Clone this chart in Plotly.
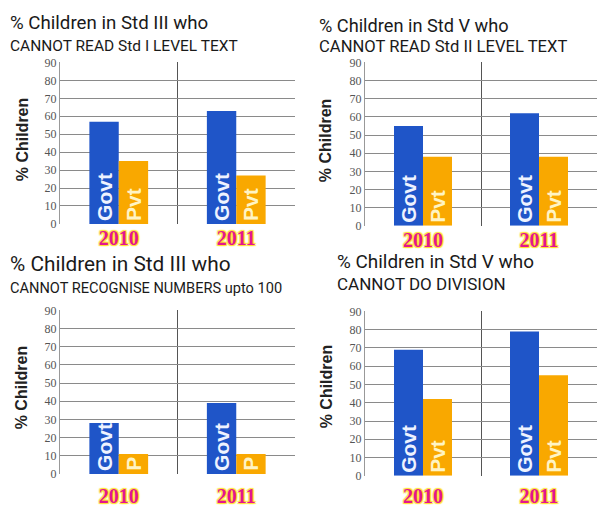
import plotly.graph_objects as go

W, H = 599, 512

years = ["2010", "2011"]
y_ticks = [0, 10, 20, 30, 40, 50, 60, 70, 80, 90]

# Panel data (% children)
read3_govt = [57, 63]
read3_pvt = [35, 27]
read5_govt = [55, 62]
read5_pvt = [38, 38]
num3_govt = [28, 39]
num3_pvt = [11, 11]
div5_govt = [69, 79]
div5_pvt = [42, 55]

govt_labels = ["Govt", "Govt"]
pvt_labels = ["Pvt", "Pvt"]
pvt_short_labels = ["P", "P"]

titles_line1 = ["% Children in Std III who", "% Children in Std V who",
                "% Children in Std III who", "% Children in Std V who"]
titles_line2 = ["CANNOT READ Std I LEVEL TEXT", "CANNOT READ Std II LEVEL TEXT",
                "CANNOT RECOGNISE NUMBERS upto 100", "CANNOT DO DIVISION"]
y_title = "% Children"

GOVT = "#1f55c8"
PVT = "#f9a800"


def px_x(p):
    return p / W


def px_y(p):
    return 1 - p / H


# plot areas in pixels: (x0, x1, ytop(90), ybottom(0))
areas = [(60, 295, 57, 223), (365, 597, 57, 225),
         (60, 295, 312, 480), (365, 597, 313, 482)]
year_standoff = [0, 0, 8, 6]

panels = [(read3_govt, read3_pvt, pvt_labels),
          (read5_govt, read5_pvt, pvt_labels),
          (num3_govt, num3_pvt, pvt_short_labels),
          (div5_govt, div5_pvt, pvt_labels)]

fig = go.Figure()
layout = {}
for i, ((g, p, plab), (x0, x1, yt, yb)) in enumerate(zip(panels, areas)):
    n = i + 1
    xa = "x" if n == 1 else f"x{n}"
    ya = "y" if n == 1 else f"y{n}"
    fig.add_trace(go.Bar(
        x=years, y=g, name="Govt", text=govt_labels, xaxis=xa, yaxis=ya,
        marker=dict(color=GOVT, line=dict(width=0)),
        textposition="inside", insidetextanchor="start", textangle=-90,
        constraintext="none",
        insidetextfont=dict(family="Liberation Sans", size=21, color="#eef3ff", weight="bold"),
        showlegend=False, offsetgroup="g"))
    fig.add_trace(go.Bar(
        x=years, y=p, name="Pvt", text=plab, xaxis=xa, yaxis=ya,
        marker=dict(color=PVT, line=dict(width=0)),
        textposition="inside", insidetextanchor="start", textangle=-90,
        constraintext="none",
        insidetextfont=dict(family="Liberation Sans", size=21, color="#fff4c4", weight="bold"),
        showlegend=False, offsetgroup="p"))
    kx = "xaxis" if n == 1 else f"xaxis{n}"
    ky = "yaxis" if n == 1 else f"yaxis{n}"
    layout[kx] = dict(
        domain=[px_x(x0), px_x(x1)], anchor=ya, type="category",
        tickson="boundaries", showgrid=True, gridcolor="#555", gridwidth=1,
        ticks="", showline=False, zeroline=False, ticklabelstandoff=year_standoff[i],
        tickfont=dict(family="Liberation Serif", size=20, color="#e3168f", weight="bold",
                      shadow="1px 1px 1px #ffe030, -1px -1px 1px #ffe030, 1px -1px 1px #ffe030, -1px 1px 1px #ffe030"),
        fixedrange=True)
    layout[ky] = dict(
        domain=[px_y(yb), px_y(yt)], anchor=xa, range=[0, 90],
        tickvals=y_ticks, showgrid=True, gridcolor="#8a8a8a", gridwidth=1,
        zeroline=False, showline=True, linecolor="#999", linewidth=1, mirror=False,
        ticks="", tickfont=dict(family="Liberation Serif", size=12, color="#555"),
        fixedrange=True)

fig.update_layout(**layout)

annotations = []
t1_pos = [(8, 16, 18.7), (317, 19, 18.2), (8, 264, 20.8), (335, 262, 18.9)]
t2_pos = [(8, 40, 15.5), (317, 41, 16.6), (8, 289, 14.6), (335, 285, 17)]
for i in range(4):
    x, y, s = t1_pos[i]
    annotations.append(dict(text=titles_line1[i], x=px_x(x), y=px_y(y), xref="paper", yref="paper",
                            xanchor="left", yanchor="middle", showarrow=False,
                            font=dict(family="Roboto", size=s, color="#1a1a1a")))
    x, y, s = t2_pos[i]
    annotations.append(dict(text=titles_line2[i], x=px_x(x), y=px_y(y), xref="paper", yref="paper",
                            xanchor="left", yanchor="middle", showarrow=False,
                            font=dict(family="Roboto", size=s, color="#1a1a1a")))
yt_pos = [(22, 136), (325, 137), (21, 391), (326, 390)]
for x, y in yt_pos:
    annotations.append(dict(text=y_title, x=px_x(x), y=px_y(y), xref="paper", yref="paper",
                            xanchor="center", yanchor="middle", textangle=-90, showarrow=False,
                            font=dict(family="Liberation Sans", size=16, color="#222", weight="bold")))

fig.update_layout(
    width=W, height=H, margin=dict(l=0, r=0, t=0, b=0),
    paper_bgcolor="white", plot_bgcolor="white",
    barmode="group", bargap=0.5, bargroupgap=0,
    annotations=annotations,
)

fig.write_html("out.html", config={"displayModeBar": False})
